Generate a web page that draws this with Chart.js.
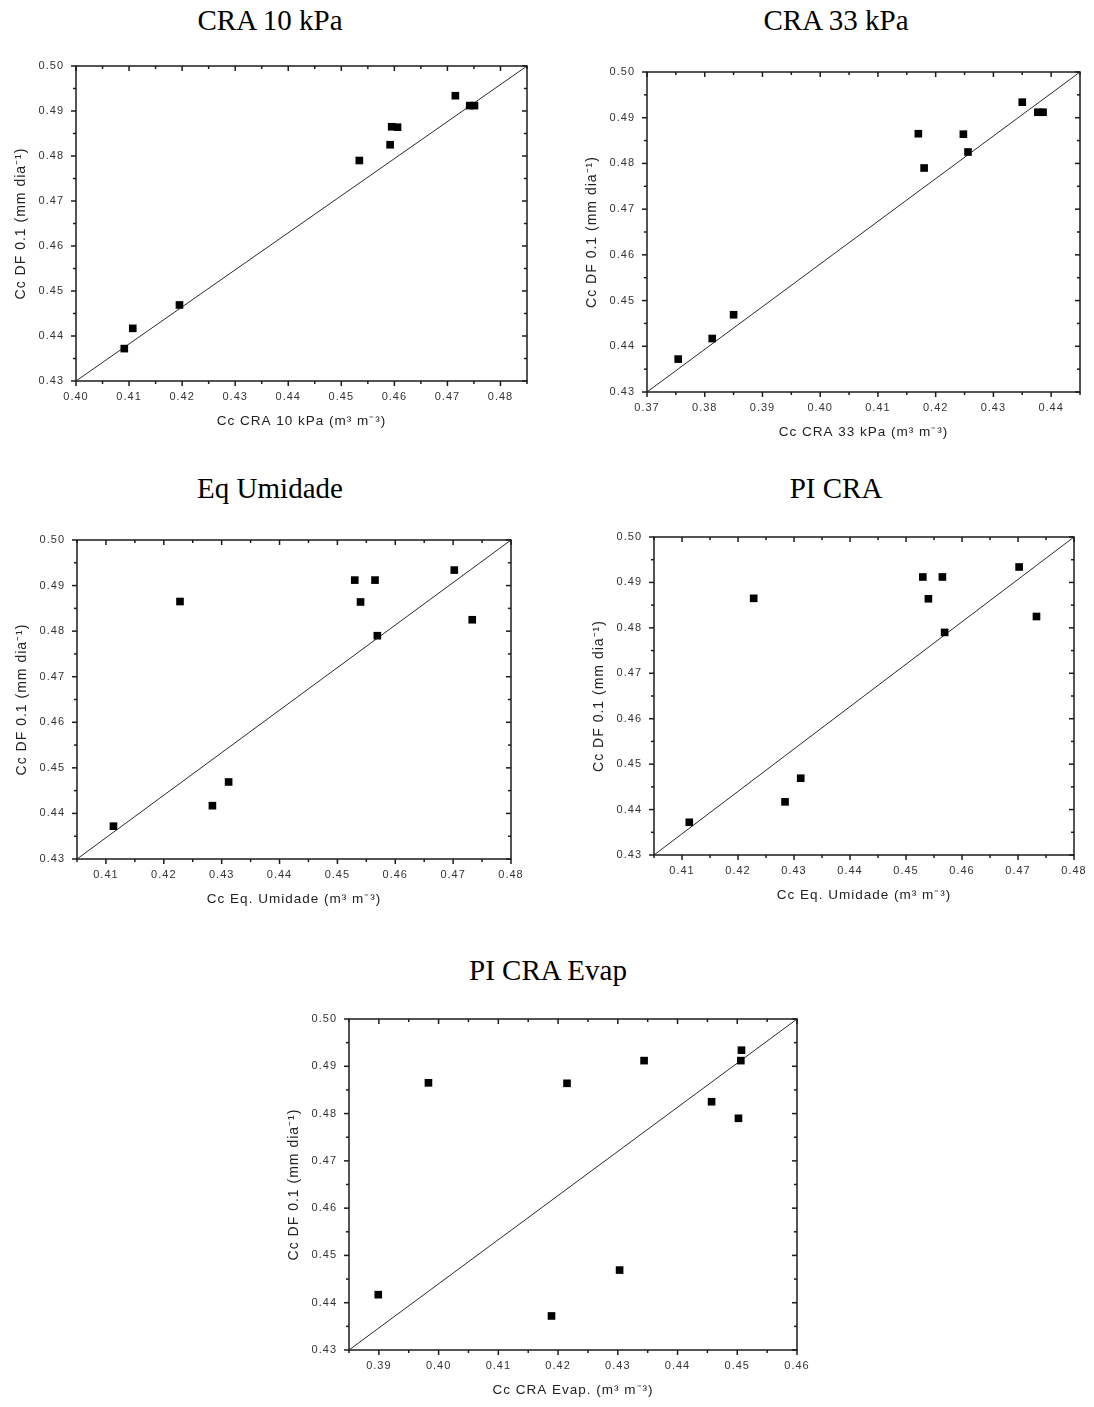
<!DOCTYPE html>
<html>
<head>
<meta charset="utf-8">
<script src="https://cdn.jsdelivr.net/npm/chart.js@4.4.1/dist/chart.umd.min.js"></script>
<style>
  body { margin: 0; background: #fff; width: 1094px; height: 1407px; position: relative; overflow: hidden; }
  .ttl { position: absolute; font-family: 'Liberation Serif', 'Times New Roman', serif; font-size: 29px; color: #000;
         transform: translate(-50%, -50%); white-space: nowrap; }
  canvas { position: absolute; }
</style>
</head>
<body>
<script>
// Cc DF 0.1 (same ten samples on every panel)
const ccDF = [0.4372, 0.4417, 0.4469, 0.4790, 0.4825, 0.4865, 0.4864, 0.4934, 0.4912, 0.4912];

// x values of each method, same sample order as ccDF
const cra10 = [0.4091, 0.4107, 0.4195, 0.4534, 0.4592, 0.4595, 0.4606, 0.4715, 0.4742, 0.4751];
const cra33 = [0.3754, 0.3813, 0.3850, 0.4180, 0.4256, 0.4170, 0.4248, 0.4350, 0.4377, 0.4386];
const eqUmid = [0.4113, 0.4284, 0.4312, 0.4569, 0.4733, 0.4228, 0.4540, 0.4702, 0.4530, 0.4565];
const craEvap = [0.4189, 0.3899, 0.4303, 0.4502, 0.4457, 0.3983, 0.4215, 0.4507, 0.4344, 0.4506];

// tick labels
const yTicks = [0.43, 0.44, 0.45, 0.46, 0.47, 0.48, 0.49, 0.50];
const xTicks10 = [0.40, 0.41, 0.42, 0.43, 0.44, 0.45, 0.46, 0.47, 0.48];
const xTicks33 = [0.37, 0.38, 0.39, 0.40, 0.41, 0.42, 0.43, 0.44];
const xTicksEq = [0.41, 0.42, 0.43, 0.44, 0.45, 0.46, 0.47, 0.48];
const xTicksEvap = [0.39, 0.40, 0.41, 0.42, 0.43, 0.44, 0.45, 0.46];

const INK = '#1c1c1c';
// room around the plot frame inside each canvas
const LEFT = 76, TOP = 24, RIGHT = 30, BOTTOM = 50;

// frame, inward/outward major and minor ticks
const frameTicks = {
  id: 'frameTicks',
  beforeDraw(chart) {
    chart.ctx.letterSpacing = '1px';
  },
  afterDraw(chart) {
    const { ctx, chartArea: a, scales: { x, y } } = chart;
    const minors = (ticks, min, max) => {
      const out = [];
      const half = (ticks[1] - ticks[0]) / 2;
      for (let i = 0; i < ticks.length; i++) {
        const lo = ticks[i] - half, hi = ticks[i] + half;
        if (i === 0 && lo >= min - 1e-9) out.push(lo);
        if (hi <= max + 1e-9) out.push(hi);
      }
      return out;
    };
    ctx.save();
    ctx.strokeStyle = INK;
    ctx.lineWidth = 1.5;
    ctx.strokeRect(a.left, a.top, a.right - a.left, a.bottom - a.top);
    const seg = (x1, y1, x2, y2) => { ctx.beginPath(); ctx.moveTo(x1, y1); ctx.lineTo(x2, y2); ctx.stroke(); };
    const xt = x.ticks.map(t => t.value), yt = y.ticks.map(t => t.value);
    xt.forEach(v => {
      const px = x.getPixelForValue(v);
      seg(px, a.bottom, px, a.bottom + 5);
      seg(px, a.top, px, a.top + 5);
    });
    minors(xt, x.min, x.max).forEach(v => {
      const px = x.getPixelForValue(v);
      seg(px, a.bottom, px, a.bottom + 3);
      seg(px, a.top, px, a.top + 3);
    });
    yt.forEach(v => {
      const py = y.getPixelForValue(v);
      seg(a.left - 5, py, a.left, py);
      seg(a.right - 5, py, a.right, py);
    });
    minors(yt, y.min, y.max).forEach(v => {
      const py = y.getPixelForValue(v);
      seg(a.left - 3, py, a.left, py);
      seg(a.right - 3, py, a.right, py);
    });
    ctx.restore();
  }
};

function panel(p) {
  const w = (p.r - p.l) + LEFT + RIGHT;
  const h = (p.b - p.t) + TOP + BOTTOM;
  const cv = document.createElement('canvas');
  cv.width = w; cv.height = h;
  cv.style.left = (p.l - LEFT) + 'px';
  cv.style.top = (p.t - TOP) + 'px';
  cv.style.width = w + 'px'; cv.style.height = h + 'px';
  document.body.appendChild(cv);

  const ttl = document.createElement('div');
  ttl.className = 'ttl';
  ttl.textContent = p.title;
  ttl.style.left = p.tx + 'px';
  ttl.style.top = p.ty + 'px';
  document.body.appendChild(ttl);

  const tickFont = { family: "'Liberation Sans', Arial, sans-serif", size: 11 };
  new Chart(cv, {
    type: 'scatter',
    data: {
      datasets: [{
        data: p.xs.map((v, i) => ({ x: v, y: ccDF[i] })),
        backgroundColor: '#000',
        borderWidth: 0,
        pointStyle: 'rect',
        pointRadius: 5.4
      }, {
        // reference line across the plot
        data: [{ x: p.xMin, y: yTicks[0] }, { x: p.xMax, y: yTicks[yTicks.length - 1] }],
        showLine: true,
        borderColor: '#2a2a2a',
        borderWidth: 1,
        pointRadius: 0
      }]
    },
    options: {
      responsive: false,
      animation: false,
      events: [],
      layout: { padding: { left: 12, top: TOP, right: RIGHT, bottom: 0 } },
      plugins: { legend: { display: false }, tooltip: { enabled: false } },
      scales: {
        x: {
          type: 'linear', min: p.xMin, max: p.xMax,
          afterBuildTicks: s => { s.ticks = p.xTicks.map(v => ({ value: v })); },
          afterFit: s => { s.height = BOTTOM; },
          grid: { display: false, drawTicks: false },
          border: { display: false },
          ticks: { padding: 9, color: '#333', font: tickFont, maxRotation: 0, autoSkip: false,
                   callback: v => v.toFixed(2) },
          title: { display: true, text: p.xTitle, color: '#222', padding: { top: 0, bottom: 2 },
                   font: { family: "'Liberation Sans', Arial, sans-serif", size: 13.5 } }
        },
        y: {
          type: 'linear', min: yTicks[0], max: yTicks[yTicks.length - 1],
          afterBuildTicks: s => { s.ticks = yTicks.map(v => ({ value: v })); },
          afterFit: s => { s.width = LEFT - 12; },
          grid: { display: false, drawTicks: false },
          border: { display: false },
          ticks: { padding: 12, color: '#333', font: tickFont, autoSkip: false,
                   callback: v => v.toFixed(2) },
          title: { display: true, text: 'Cc DF 0.1 (mm dia⁻¹)', color: '#222', padding: { top: 1, bottom: 0 },
                   font: { family: "'Liberation Sans', Arial, sans-serif", size: 14 } }
        }
      }
    },
    plugins: [frameTicks]
  });
}

panel({ title: 'CRA 10 kPa', tx: 270, ty: 20, l: 76, t: 66, r: 527, b: 381,
        xs: cra10, xMin: 0.40, xMax: 0.485, xTicks: xTicks10, xTitle: 'Cc CRA 10 kPa (m³ m⁻³)' });
panel({ title: 'CRA 33 kPa', tx: 836, ty: 20, l: 647, t: 72, r: 1080, b: 392,
        xs: cra33, xMin: 0.37, xMax: 0.445, xTicks: xTicks33, xTitle: 'Cc CRA 33 kPa (m³ m⁻³)' });
panel({ title: 'Eq Umidade', tx: 270, ty: 488, l: 77, t: 540, r: 511, b: 859,
        xs: eqUmid, xMin: 0.405, xMax: 0.48, xTicks: xTicksEq, xTitle: 'Cc Eq. Umidade (m³ m⁻³)' });
panel({ title: 'PI CRA', tx: 836, ty: 488, l: 654, t: 537, r: 1074, b: 855,
        xs: eqUmid, xMin: 0.405, xMax: 0.48, xTicks: xTicksEq, xTitle: 'Cc Eq. Umidade (m³ m⁻³)' });
panel({ title: 'PI CRA Evap', tx: 548, ty: 970, l: 349, t: 1019, r: 797, b: 1350,
        xs: craEvap, xMin: 0.385, xMax: 0.46, xTicks: xTicksEvap, xTitle: 'Cc CRA Evap. (m³ m⁻³)' });
</script>
</body>
</html>
